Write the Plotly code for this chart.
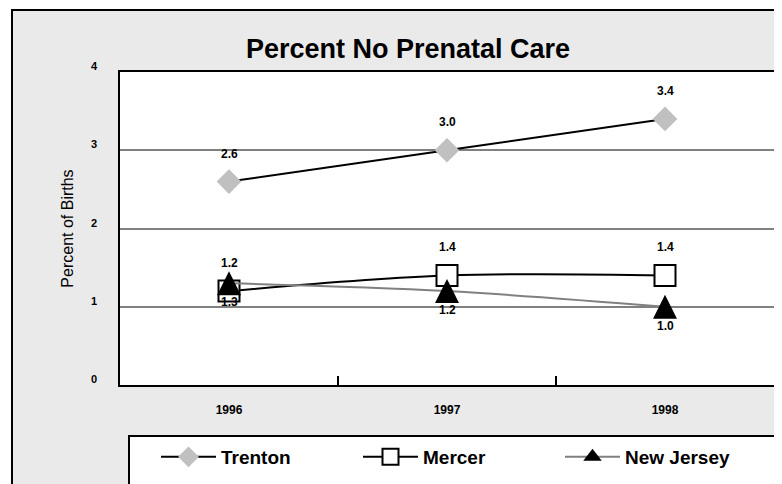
import plotly.graph_objects as go

# ---- data ----
years = ["1996", "1997", "1998"]
trenton = [2.6, 3.0, 3.4]
mercer = [1.2, 1.4, 1.4]
new_jersey = [1.3, 1.2, 1.0]
y_ticks = [0, 1, 2, 3, 4]

# ---- geometry (page pixels; the page body adds an 8px offset) ----
OFF = 8
PAGE_W, PAGE_H = 782, 484
W, H = PAGE_W - OFF, PAGE_H - OFF
PL, PR, PT, PB = 120, 774, 72, 385          # plot area in page pixels
L, T = PL - OFF, PT - OFF
R = W - (PR - OFF)
B = H - (PB - OFF)
PW, PH = W - L - R, H - T - B


def px(x):
    return (x - PL) / PW


def py(y):
    return (PB - y) / PH


FONT = "Liberation Sans, Arial, Helvetica, sans-serif"
xi = list(range(len(years)))
bounds_inner = [i + 0.5 for i in xi[:-1]]
bounds_all = [xi[0] - 0.5] + bounds_inner + [xi[-1] + 0.5]

NJ_LINE = dict(color="#808080", width=2, shape="spline", smoothing=1)

fig = go.Figure()
fig.add_trace(go.Scatter(
    x=xi, y=trenton, name="Trenton", mode="lines+markers",
    line=dict(color="black", width=2, shape="spline", smoothing=1),
    marker=dict(symbol="diamond", size=19, color="#C0C0C0", line=dict(width=0)),
))
fig.add_trace(go.Scatter(
    x=xi, y=mercer, name="Mercer", mode="lines+markers",
    line=dict(color="black", width=2, shape="spline", smoothing=1),
    marker=dict(symbol="square", size=21, color="white", line=dict(color="black", width=2)),
))
fig.add_trace(go.Scatter(
    x=xi, y=new_jersey, name="New Jersey", mode="lines+markers", showlegend=False,
    legendgroup="nj", line=NJ_LINE,
    marker=dict(symbol="arrow-down", angle=180, size=24, standoff=12,
                color="black", line=dict(width=0)),
))
# legend entry for New Jersey (same style, sized for the legend)
fig.add_trace(go.Scatter(
    x=[None], y=[None], name="New Jersey", mode="lines+markers", legendgroup="nj",
    line=NJ_LINE,
    marker=dict(symbol="triangle-up", size=18, color="black", line=dict(width=0)),
))

annotations = []
# data labels
for series, shift in ((trenton, 28), (mercer, 28), (new_jersey, -19)):
    for i, v in zip(xi, series):
        annotations.append(dict(
            x=i, y=v, xref="x", yref="y", text=f"{v:.1f}", showarrow=False,
            yshift=shift, font=dict(family=FONT, size=12, color="black", weight="bold"),
        ))
# y tick labels (sit slightly above their gridlines, as in the original)
for t in y_ticks:
    annotations.append(dict(
        x=px(94), y=t, xref="paper", yref="y", text=str(t), showarrow=False,
        xanchor="center", yanchor="middle", yshift=6,
        font=dict(family=FONT, size=11, color="black", weight="bold"),
    ))
# title
annotations.append(dict(
    x=px(408), y=py(49), xref="paper", yref="paper", text="Percent No Prenatal Care",
    showarrow=False, xanchor="center", yanchor="middle",
    font=dict(family=FONT, size=27, color="black", weight="bold"),
))

shapes = [
    # white strips outside the frame
    dict(type="rect", xref="paper", yref="paper", x0=px(-5), x1=px(11), y0=py(-5), y1=py(500),
         fillcolor="white", line=dict(width=0), layer="below"),
    dict(type="rect", xref="paper", yref="paper", x0=px(-5), x1=px(800), y0=py(-5), y1=py(9),
         fillcolor="white", line=dict(width=0), layer="below"),
    # outer frame
    dict(type="rect", xref="paper", yref="paper", x0=px(12), x1=px(800), y0=py(10), y1=py(500),
         fillcolor="rgba(0,0,0,0)", line=dict(color="black", width=2), layer="below"),
    # legend box
    dict(type="rect", xref="paper", yref="paper", x0=px(129), x1=px(778), y0=py(436), y1=py(500),
         fillcolor="white", line=dict(color="black", width=2), layer="below"),
]

fig.update_layout(
    width=W, height=H,
    margin=dict(l=L, r=R, t=T, b=B, autoexpand=False),
    paper_bgcolor="#EAEAEA", plot_bgcolor="white",
    font=dict(family=FONT, color="black"),
    showlegend=True,
    xaxis=dict(
        range=[bounds_all[0], bounds_all[-1]], tickvals=xi, ticktext=years,
        ticks="", showline=True, linecolor="black", linewidth=2, mirror=True,
        showgrid=False, zeroline=False, ticklabelstandoff=13,
        tickfont=dict(family=FONT, size=12, color="black", weight="bold"),
        minor=dict(tickvals=bounds_inner, ticks="inside", ticklen=9, tickwidth=2,
                   tickcolor="black", showgrid=False),
    ),
    xaxis2=dict(
        overlaying="x", anchor="y", side="bottom",
        range=[bounds_all[0], bounds_all[-1]], tickvals=bounds_all,
        ticks="outside", ticklen=8, tickwidth=2, tickcolor="black",
        showticklabels=False, showline=False, showgrid=False, zeroline=False,
    ),
    yaxis=dict(
        range=[y_ticks[0], y_ticks[-1]], tickvals=y_ticks, showticklabels=False,
        ticks="", showgrid=True, gridcolor="#808080", gridwidth=2,
        showline=True, linecolor="black", linewidth=2, mirror=True, zeroline=False,
        title=dict(text="Percent of Births", standoff=40,
                   font=dict(family=FONT, size=16, color="black")),
    ),
    legend=dict(
        orientation="h", x=px(156), xanchor="left", y=py(457), yanchor="middle",
        bgcolor="rgba(0,0,0,0)", borderwidth=0,
        font=dict(family=FONT, size=19, color="black", weight="bold"),
        itemwidth=55, entrywidth=132, entrywidthmode="pixels", traceorder="normal",
    ),
    annotations=annotations,
    shapes=shapes,
)

fig.write_html("out.html")
